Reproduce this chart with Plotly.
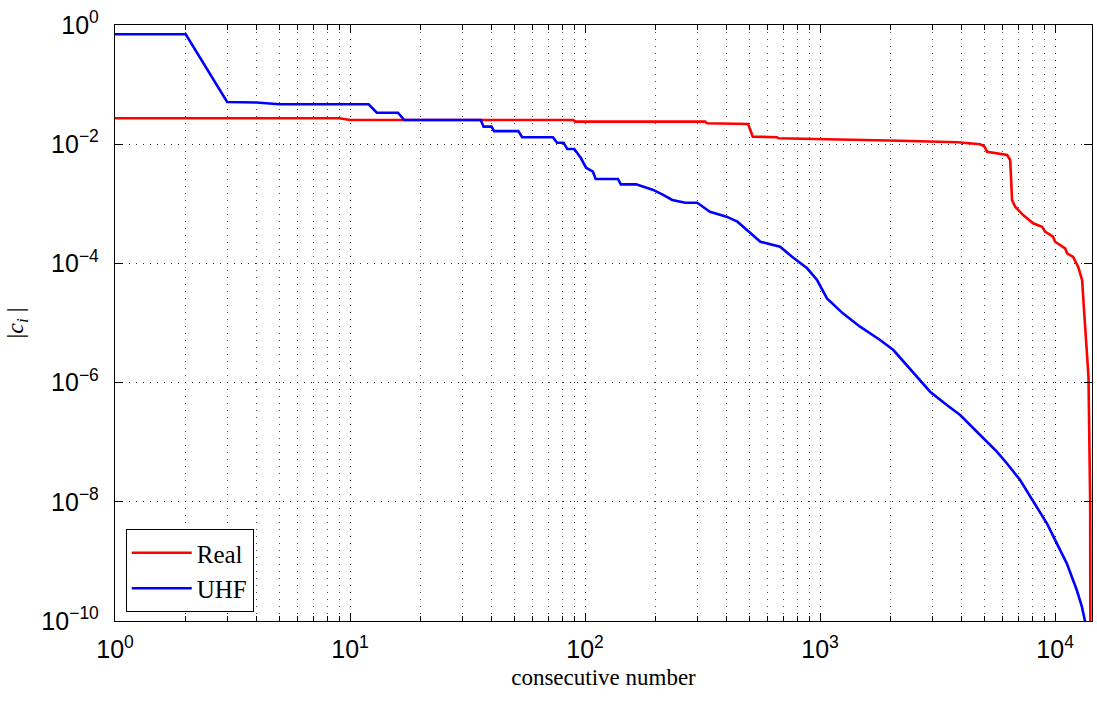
import plotly.graph_objects as go

# Sorted coefficient magnitudes |c_i| against their consecutive number
real_n = [1, 9, 10, 89, 91, 324, 330, 404, 410, 494, 505, 517, 655, 665,
          2190, 3850, 4800, 5000, 5140, 6250, 6440, 6560, 6760, 7310, 8060,
          8800, 9060, 9800, 10000, 11030, 11250, 11930, 12530, 13030, 13190,
          13420, 13650, 13870, 14100, 14150]
real_c = [0.0272, 0.0272, 0.0255, 0.0255, 0.0239, 0.0239, 0.0224, 0.0224,
          0.0218, 0.0218, 0.0173, 0.0134, 0.0131, 0.0126, 0.01145, 0.01076,
          0.00996, 0.0092, 0.00748, 0.00659, 0.00543, 0.00116, 0.000894,
          0.000648, 0.000471, 0.000413, 0.000341, 0.000281, 0.000231,
          0.000179, 0.000148, 0.000129, 8.81e-5, 5.26e-5, 2.43e-5, 7.63e-6,
          2.72e-6, 1.26e-6, 1e-8, 1e-12]

uhf_n = [1, 2, 3, 4, 5, 12, 13, 16, 17, 36, 37, 40, 41, 52, 54, 73, 76, 81,
         84, 90, 96, 101, 108, 111, 138, 142, 165, 195, 215, 235, 267, 300,
         340, 400, 445, 505, 557, 676, 760, 881, 971, 1070, 1250, 1480, 1800,
         2051, 2495, 2939, 3460, 3945, 4797, 5651, 6228, 7098, 8090, 9225,
         9838, 11210, 12365, 13000, 13420, 13550]
uhf_c = [0.70, 0.70, 0.051, 0.050, 0.0467, 0.0467, 0.0338, 0.0338, 0.0255,
         0.0255, 0.0197, 0.0197, 0.0166, 0.0166, 0.0131, 0.0131, 0.0106,
         0.0106, 0.0083, 0.0083, 0.00586, 0.00403, 0.00346, 0.00261, 0.00261,
         0.00212, 0.00212, 0.00171, 0.00141, 0.00116, 0.00104, 0.00104,
         0.000737, 0.000608, 0.000501, 0.000328, 0.000231, 0.000191,
         0.000129, 8.27e-5, 5.26e-5, 2.59e-5, 1.45e-5, 8.67e-6, 5.19e-6,
         3.52e-6, 1.43e-6, 7.03e-7, 4.21e-7, 2.86e-7, 1.32e-7, 6.93e-8,
         4.43e-8, 2.32e-8, 1.00e-8, 4.36e-9, 2.60e-9, 9.29e-10, 3.31e-10,
         1.74e-10, 9.75e-11, 6e-11]

x_tickvals = [1, 10, 100, 1000, 10000]
x_ticktext = ["10<sup>0</sup>", "10<sup>1</sup>", "10<sup>2</sup>",
              "10<sup>3</sup>", "10<sup>4</sup>"]
y_tickvals = [1, 1e-2, 1e-4, 1e-6, 1e-8, 1e-10]
y_ticktext = ["10<sup>0</sup>", "10<sup>\u22122</sup>", "10<sup>\u22124</sup>",
              "10<sup>\u22126</sup>", "10<sup>\u22128</sup>", "10<sup>\u221210</sup>"]

SANS = "Liberation Sans, Arial, sans-serif"
SERIF = "Liberation Serif, DejaVu Serif, serif"
DOTS = "1px,6px"

fig = go.Figure()
fig.add_trace(go.Scatter(x=real_n, y=real_c, mode="lines", name="Real",
                         line=dict(color="#ff0000", width=2.6)))
fig.add_trace(go.Scatter(x=uhf_n, y=uhf_c, mode="lines", name="UHF",
                         line=dict(color="#0000ff", width=2.6)))

axis_common = dict(
    showline=True, linecolor="black", linewidth=1.3, mirror="ticks",
    ticks="inside", ticklen=8, tickcolor="black", tickwidth=1,
    showgrid=True, gridcolor="rgba(0,0,0,0.85)", gridwidth=1, griddash=DOTS,
    zeroline=False, tickfont=dict(family=SANS, size=25, color="black"),
)

fig.update_xaxes(
    type="log", range=[0, 4.157],
    tickvals=x_tickvals, ticktext=x_ticktext,
    minor=dict(dtick="D1", ticks="inside", ticklen=5, tickcolor="black",
               showgrid=True, gridcolor="rgba(0,0,0,0.7)", griddash=DOTS,
               gridwidth=1),
    title=dict(text="consecutive number", font=dict(family=SERIF, size=23, color="black"),
               standoff=6),
    ticklabelstandoff=6,
    **axis_common,
)
fig.update_yaxes(
    type="log", range=[-10, 0],
    tickvals=y_tickvals, ticktext=y_ticktext,
    title=dict(text="|<i>c<sub>i</sub></i> |", font=dict(family=SERIF, size=24, color="black"),
               standoff=10),
    ticklabelstandoff=10,
    **axis_common,
)

fig.update_layout(
    width=1097, height=704,
    margin=dict(l=115, r=5, t=25, b=83),
    paper_bgcolor="white", plot_bgcolor="white",
    showlegend=True,
    legend=dict(x=0.011, y=0.015, xanchor="left", yanchor="bottom",
                bgcolor="white", bordercolor="black", borderwidth=1,
                font=dict(family=SERIF, size=25, color="black"),
                itemwidth=60, tracegroupgap=0),
)

fig.write_html("out.html")
